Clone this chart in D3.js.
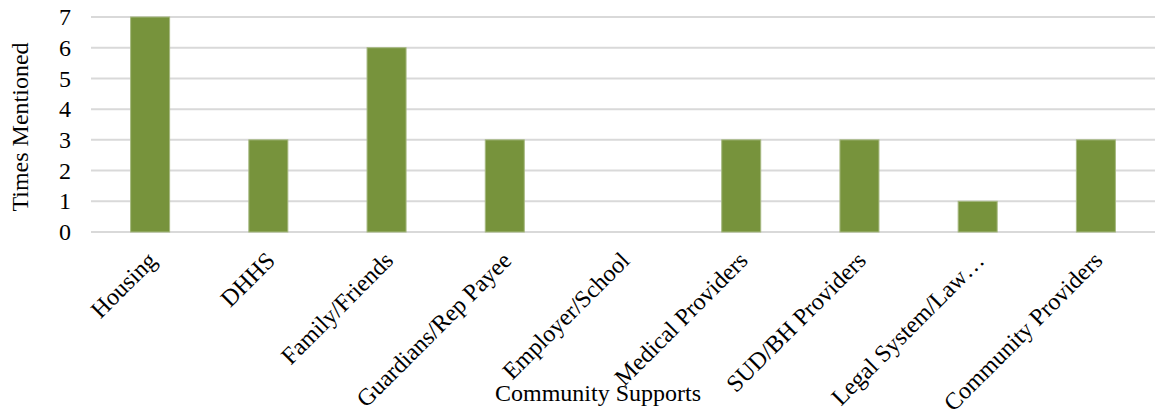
<!DOCTYPE html>
<html>
<head>
<meta charset="utf-8">
<script src="https://cdn.jsdelivr.net/npm/d3@7"></script>
<style>
  html, body { margin: 0; padding: 0; background: #fff; }
  svg { display: block; }
  text { font-family: "Liberation Serif", "Times New Roman", serif; fill: #000; }
</style>
</head>
<body>
<svg id="chart" width="1159" height="410"></svg>
<script>
// Community supports and how often each was mentioned
const categories = ["Housing", "DHHS", "Family/Friends", "Guardians/Rep Payee", "Employer/School",
  "Medical Providers", "SUD/BH Providers", "Legal System/Law\u2026", "Community Providers"];
const timesMentioned = [7, 3, 6, 3, 0, 3, 3, 1, 3];
const yTicks = [0, 1, 2, 3, 4, 5, 6, 7];
const yTitle = "Times Mentioned";
const xTitle = "Community Supports";

const FONT = "'Liberation Serif', 'Times New Roman', serif";
const FS = "24px";

const svg = d3.select("#chart");
const margin = { left: 91, right: 4, top: 17, bottom: 178 };
const width = 1159, height = 410;

const x = d3.scaleBand()
  .domain(categories)
  .range([margin.left, width - margin.right])
  .paddingInner(0.67)
  .paddingOuter(0.335);

const y = d3.scaleLinear()
  .domain([0, 7])
  .range([height - margin.bottom, margin.top]);

// gridlines
svg.append("g")
  .selectAll("line")
  .data(yTicks)
  .join("line")
  .attr("x1", margin.left)
  .attr("x2", width - margin.right)
  .attr("y1", d => y(d))
  .attr("y2", d => y(d))
  .attr("stroke", "#d9d9d9")
  .attr("stroke-width", 2);

// y axis labels
const yAxis = d3.axisLeft(y).tickValues(yTicks).tickSize(0).tickPadding(0).tickFormat(d3.format("d"));
svg.append("g")
  .attr("transform", `translate(${margin.left - 20},0)`)
  .call(yAxis)
  .attr("font-family", FONT)
  .attr("font-size", FS)
  .call(g => g.select(".domain").remove())
  .call(g => g.selectAll("text").attr("fill", "#000"));

// bars
svg.append("g")
  .selectAll("rect")
  .data(categories.map((c, i) => ({ c, v: timesMentioned[i] })).filter(d => d.v > 0))
  .join("rect")
  .attr("x", d => x(d.c))
  .attr("width", x.bandwidth())
  .attr("y", d => y(d.v))
  .attr("height", d => y(0) - y(d.v))
  .attr("fill", "#77933c")
  .attr("stroke", "#a6b880")
  .attr("stroke-width", 1);

// x axis labels, rotated
const xAxis = d3.axisBottom(x).tickSize(0).tickPadding(0);
svg.append("g")
  .attr("transform", `translate(0,${y(0)})`)
  .call(xAxis)
  .attr("font-family", FONT)
  .attr("font-size", FS)
  .call(g => g.select(".domain").remove())
  .call(g => g.selectAll("text")
    .attr("fill", "#000")
    .attr("text-anchor", "end")
    .attr("dy", "0")
    .attr("transform", "translate(8,30) rotate(-45)"));

// axis titles
svg.append("text")
  .attr("transform", `translate(28,127) rotate(-90)`)
  .attr("text-anchor", "middle")
  .attr("font-family", FONT)
  .attr("font-size", FS)
  .text(yTitle);

svg.append("text")
  .attr("x", 598)
  .attr("y", 401)
  .attr("text-anchor", "middle")
  .attr("font-family", FONT)
  .attr("font-size", FS)
  .text(xTitle);
</script>
</body>
</html>
